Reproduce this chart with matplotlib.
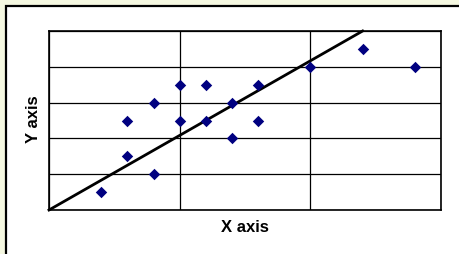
import matplotlib.pyplot as plt
from matplotlib.patches import Rectangle

plt.rcParams['font.family'] = ['Liberation Sans', 'DejaVu Sans']

# scatter data
x_vals = [2, 3, 3, 4, 4, 5, 5, 6, 6, 7, 7, 8, 8, 10, 12, 14]
y_vals = [1, 3, 5, 2, 6, 7, 5, 7, 5, 6, 4, 7, 5, 8, 9, 8]

# straight line
line_x = [0, 12]
line_y = [0, 10]

W, H = 459, 255
fig = plt.figure(figsize=(W / 100, H / 100), dpi=100)
fig.patch.set_facecolor('#F5F8E1')

# white panel with dark border (runs off the right / bottom edge)
panel = Rectangle((6 / W, -0.1), 1.2, 1 - 7 / H + 0.1, transform=fig.transFigure,
                  facecolor='white', edgecolor='black', linewidth=1.6, zorder=-1)
fig.patches.append(panel)

ax = fig.add_axes([49 / W, 1 - 211 / H, 392 / W, 179 / H])
ax.set_zorder(1)
ax.set_facecolor('white')

ax.plot(line_x, line_y, color='black', linewidth=2, zorder=3, clip_on=False)
ax.scatter(x_vals, y_vals, marker='D', s=34, color='#000080', zorder=4, linewidths=0)

ax.set_xlim(0, 15)
ax.set_ylim(0, 10)
ax.set_xticks([0, 5, 10, 15])
ax.set_yticks([0, 2, 4, 6, 8, 10])
ax.grid(True, color='black', linewidth=0.9)
ax.tick_params(length=0, labelbottom=False, labelleft=False)
for s in ax.spines.values():
    s.set_linewidth(1.2)
    s.set_color('black')

fig.text(245 / W, 1 - 228 / H, 'X axis', ha='center', va='center',
         fontsize=12, fontweight='bold')
fig.text(34 / W, 1 - 119 / H, 'Y axis', ha='center', va='center',
         fontsize=12, fontweight='bold', rotation=90)

fig.savefig('out.png', dpi=100)
